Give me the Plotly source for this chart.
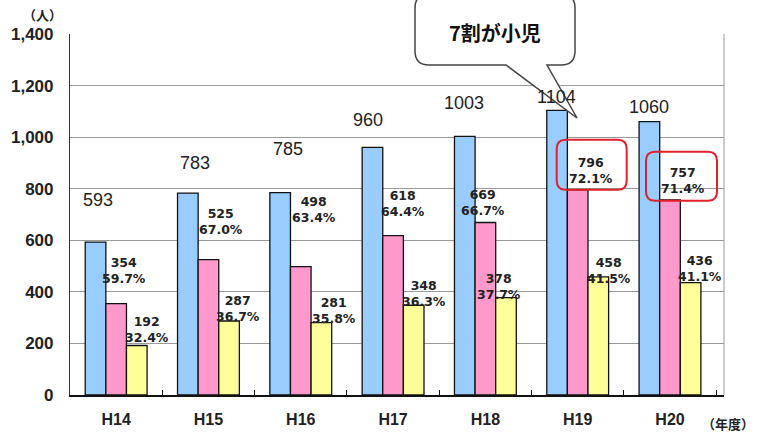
import plotly.graph_objects as go

# ---- data ----
years = ["H14", "H15", "H16", "H17", "H18", "H19", "H20"]
total = [593, 783, 785, 960, 1003, 1104, 1060]
child = [354, 525, 498, 618, 669, 796, 757]
child_pct = ["59.7%", "67.0%", "63.4%", "64.4%", "66.7%", "72.1%", "71.4%"]
other = [192, 287, 281, 348, 378, 458, 436]
other_pct = ["32.4%", "36.7%", "35.8%", "36.3%", "37.7%", "41.5%", "41.1%"]
y_ticks = [0, 200, 400, 600, 800, 1000, 1200, 1400]

# ---- style (label offsets in px) ----
blue_dx = [3, 8, 8, -4, 0, 0, 0]
blue_dy = [30, 18, 32, 15, 21, 1, 3]
pink_dx = [8, 13, 13, 10, -2, 13, 13]
pink_dy = [16, 21, 40, 15, 2, 2, 2]
yel_dx = [10, 9, 12, 10, -7, 10, 9]
yel_dy = [-2, -5, -5, -6, -6, -11, -3]

W, H = 757, 433
L, R, T, B = 70, 33, 34, 38
PW, PH = W - L - R, H - T - B
BAR_OFF = 21

C_BLUE, C_PINK, C_YEL = "#99CCFF", "#FF99CC", "#FFFF99"

fig = go.Figure()
for vals, col in [(total, C_BLUE), (child, C_PINK), (other, C_YEL)]:
    fig.add_trace(go.Bar(x=years, y=vals, marker=dict(color=col, line=dict(color="#111", width=1.3)),
                         hoverinfo="skip", showlegend=False))

ann = []
for i, yr in enumerate(years):
    ann.append(dict(x=yr, y=total[i], xref="x", yref="y", text=str(total[i]), showarrow=False,
                    xshift=-BAR_OFF + blue_dx[i], yshift=blue_dy[i], yanchor="bottom",
                    font=dict(family="Liberation Sans, Arial", size=18, color="#222")))
    ann.append(dict(x=yr, y=child[i], xref="x", yref="y", text=f"{child[i]}<br>{child_pct[i]}",
                    showarrow=False, xshift=pink_dx[i], yshift=pink_dy[i], yanchor="bottom",
                    font=dict(family="DejaVu Sans", size=12.5, color="#222", weight="bold")))
    ann.append(dict(x=yr, y=other[i], xref="x", yref="y", text=f"{other[i]}<br>{other_pct[i]}",
                    showarrow=False, xshift=BAR_OFF + yel_dx[i], yshift=yel_dy[i], yanchor="bottom",
                    font=dict(family="DejaVu Sans", size=12.5, color="#222", weight="bold")))


def px2paper(x, y):
    return (x - L) / PW, (H - B - y) / PH


ann.append(dict(x=px2paper(42, 0)[0], y=px2paper(0, 14)[1], xref="paper", yref="paper", text="（人）",
                xanchor="center", yanchor="middle", showarrow=False,
                font=dict(family="Noto Sans CJK JP", size=13, color="#222", weight="bold")))
ann.append(dict(x=px2paper(728, 0)[0], y=px2paper(0, 423)[1], xref="paper", yref="paper", text="（年度）",
                xanchor="center", yanchor="middle", showarrow=False,
                font=dict(family="Noto Sans CJK JP", size=13, color="#222", weight="bold")))

# callout
cx, cy = px2paper(495, 32)
ann.append(dict(x=cx, y=cy, xref="paper", yref="paper", text="7割が小児", showarrow=False,
                xanchor="center", yanchor="middle",
                font=dict(family="Noto Sans CJK JP", size=20, color="#111", weight="bold")))


def pp(x, y):
    a, b = px2paper(x, y)
    return f"{a:.5f},{b:.5f}"


r = 14
x0, x1, y0, y1 = 415, 575, -6, 65
callout = (f"M {pp(x0 + r, y0)} L {pp(x1 - r, y0)} Q {pp(x1, y0)} {pp(x1, y0 + r)} "
           f"L {pp(x1, y1 - r)} Q {pp(x1, y1)} {pp(x1 - r, y1)} L {pp(547, y1)} L {pp(577, 118)} "
           f"L {pp(506, y1)} L {pp(x0 + r, y1)} Q {pp(x0, y1)} {pp(x0, y1 - r)} "
           f"L {pp(x0, y0 + r)} Q {pp(x0, y0)} {pp(x0 + r, y0)} Z")

shapes = [
    dict(type="line", xref="paper", yref="paper", x0=1, x1=1, y0=0, y1=1, line=dict(color="#999", width=1)),
    dict(type="path", xref="paper", yref="paper", path=callout, fillcolor="white",
         line=dict(color="#444", width=1.5), layer="above"),
]


def rrect(a0, a1, b0, b1, rr):
    return (f"M {a0 + rr},{b0} L {a1 - rr},{b0} Q {a1},{b0} {a1},{b0 + rr} L {a1},{b1 - rr} "
            f"Q {a1},{b1} {a1 - rr},{b1} L {a0 + rr},{b1} Q {a0},{b1} {a0},{b1 - rr} "
            f"L {a0},{b0 + rr} Q {a0},{b0} {a0 + rr},{b0} Z")


for idx, (a0, a1, b0, b1) in [(5, (-21, 49, 0, 50)), (6, (-24, 47, -1, 48))]:
    shapes.append(dict(type="path", xref="x", yref="y", xsizemode="pixel", ysizemode="pixel",
                       xanchor=years[idx], yanchor=child[idx], path=rrect(a0, a1, b0, b1, 9),
                       line=dict(color="#E0202A", width=2), fillcolor="rgba(0,0,0,0)", layer="above"))

fig.update_layout(
    width=W, height=H, margin=dict(l=L, r=R, t=T, b=B, autoexpand=False),
    paper_bgcolor="white", plot_bgcolor="white",
    barmode="group", bargap=0.33, bargroupgap=0,
    annotations=ann, shapes=shapes,
    xaxis=dict(type="category", showline=True, linecolor="#111", linewidth=1.5, automargin=False,
               ticks="inside", tickson="boundaries", ticklen=5, tickcolor="#111",
               ticklabelstandoff=9,
               tickfont=dict(family="Liberation Sans, Arial", size=16, color="#222", weight="bold")),
    yaxis=dict(range=[0, 1400], tickvals=y_ticks, tickformat=",", showgrid=True, gridcolor="#999",
               gridwidth=1, showline=True, linecolor="#333", linewidth=1.2, zeroline=False,
               ticks="", ticklabelstandoff=12, automargin=False,
               tickfont=dict(family="Liberation Sans, Arial", size=17, color="#222", weight="bold")),
)

fig.write_html("out.html")
